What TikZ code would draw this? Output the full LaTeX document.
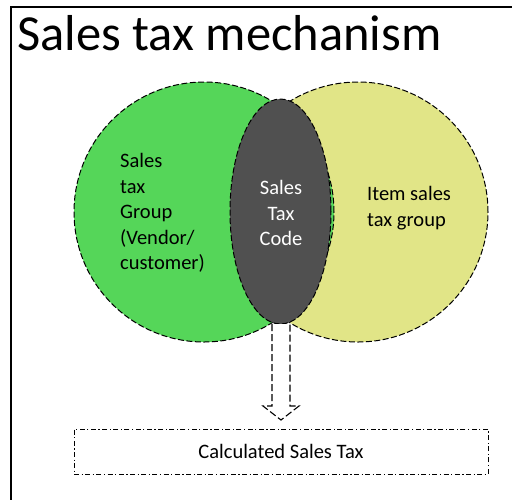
\documentclass[tikz,border=0pt]{standalone}
\usepackage{fontspec}
\setmainfont{Carlito}
\usetikzlibrary{shapes.geometric}
\definecolor{vgreen}{RGB}{85,214,89}
\definecolor{vyellow}{RGB}{225,229,135}
\definecolor{vgrey}{RGB}{80,80,80}
\begin{document}
\begin{tikzpicture}[x=1pt,y=-1pt,
  setcircle/.style={circle,draw=black,line width=1pt,dash pattern=on 6pt off 2.5pt,minimum size=260pt,inner sep=0pt},
  bodytext/.style={font=\fontsize{20.5}{25.5}\selectfont,inner sep=0pt},
  arrowline/.style={draw=black,line width=1.1pt,dash pattern=on 7pt off 3pt},
]
\useasboundingbox (0,0) rectangle (512,499);
% frame
\draw[line width=2pt] (10.5,500) -- (10.5,7) -- (513,7);
% title
\node[anchor=base west,inner sep=0pt,font=\fontsize{50.5}{60}\selectfont] (title) at (17,50) {Sales tax mechanism};
% circles
\node[setcircle,fill=vyellow] (R) at (358,212) {};
\node[setcircle,fill=vgreen] (L) at (204,212) {};
\node[ellipse,draw=black,fill=vgrey,line width=1pt,dash pattern=on 6pt off 2.5pt,minimum width=101pt,minimum height=225pt,inner sep=0pt] (C) at (280.5,211.5) {};
% texts
\node[bodytext,align=left,anchor=west] (Ltext) at (120,213) {Sales\\tax\\Group\\(Vendor/\\customer)};
\node[bodytext,align=center,text=white] (Ctext) at (281,213) {Sales\\Tax\\Code};
\node[bodytext,align=left,anchor=west] (Rtext) at (367,208) {Item sales\\tax group};
% result box
\node[draw=black,line width=1pt,dash pattern=on 5pt off 2.5pt on 1.2pt off 2.5pt,minimum width=414pt,minimum height=45pt,inner sep=0pt,font=\fontsize{20.5}{25.5}\selectfont] (box) at (281,451.5) {Calculated Sales Tax};
% hollow arrow
\coordinate (atop) at (281,324);
\coordinate (atip) at (281,420);
\fill[white] ([xshift=-9pt]atop) -- ([xshift=-9pt]atip |- 0,406) -- ([xshift=-18pt]atip |- 0,406) -- (atip) -- ([xshift=18pt]atip |- 0,406) -- ([xshift=9pt]atip |- 0,406) -- ([xshift=9pt]atop) -- cycle;
\draw[arrowline] ([xshift=-9pt]atop) -- ([xshift=-9pt]atip |- 0,406) -- ([xshift=-18pt]atip |- 0,406) -- (atip) -- ([xshift=18pt]atip |- 0,406) -- ([xshift=9pt]atip |- 0,406) -- ([xshift=9pt]atop);
\end{tikzpicture}
\end{document}
